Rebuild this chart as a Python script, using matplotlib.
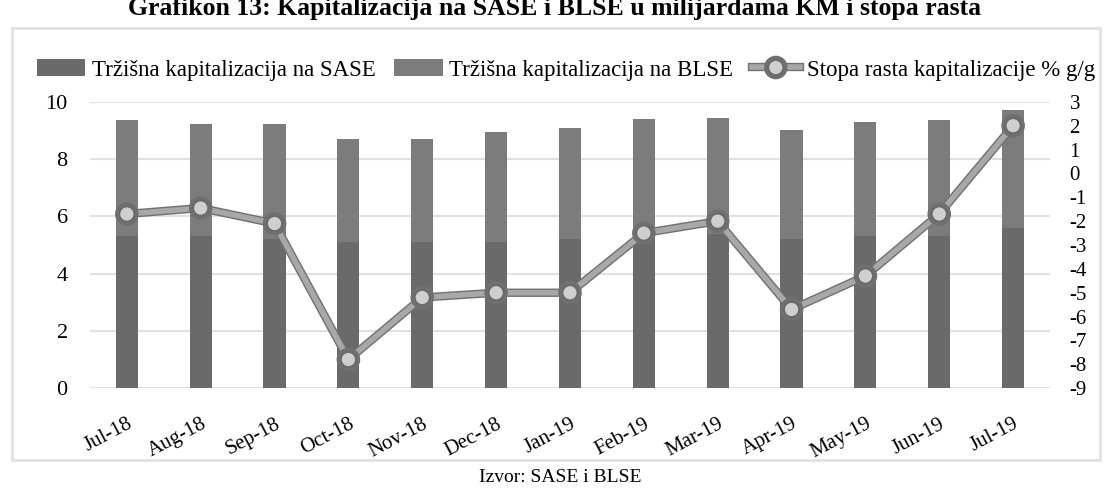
import matplotlib.pyplot as plt
import matplotlib.patheffects as pe
from matplotlib.patches import Rectangle

mjeseci = ["Jul-18", "Aug-18", "Sep-18", "Oct-18", "Nov-18", "Dec-18", "Jan-19",
           "Feb-19", "Mar-19", "Apr-19", "May-19", "Jun-19", "Jul-19"]
# ukupna kapitalizacija (mlrd KM) i dio SASE / BLSE
sase = [5.3, 5.3, 5.2, 5.1, 5.1, 5.1, 5.2, 5.3, 5.4, 5.2, 5.3, 5.3, 5.6]
blse = [4.07, 3.93, 4.03, 3.6, 3.6, 3.85, 3.9, 4.1, 4.04, 3.8, 4.0, 4.07, 4.1]
stopa = [-1.7, -1.45, -2.1, -7.8, -5.2, -5.0, -5.0, -2.5, -2.0, -5.7, -4.3, -1.7, 2.0]

plt.rcParams['font.family'] = ['Liberation Serif', 'DejaVu Serif']
plt.rcParams['axes.unicode_minus'] = False

fig = plt.figure(figsize=(11.1, 4.92), dpi=100)

# okvir grafikona
fig.patches.append(Rectangle((12 / 1110, 1 - 460 / 492), 1088 / 1110, 432 / 492,
                             transform=fig.transFigure, fill=False,
                             edgecolor='#e2e2e2', lw=2))

ax = fig.add_axes([0.081, 0.211, 0.865, 0.582])
x = range(len(mjeseci))
ax.bar(x, sase, width=0.3, color='#6a6a6a', zorder=2,
       label="Tržišna kapitalizacija na SASE")
ax.bar(x, blse, width=0.3, bottom=sase, color='#7c7c7c', zorder=2,
       label="Tržišna kapitalizacija na BLSE")
ax.set_ylim(0, 10)
ax.set_xlim(-0.5, len(mjeseci) - 0.5)
ax.set_yticks(range(0, 11, 2))
ax.grid(axis='y', color='#e0e0e0', lw=1.5, zorder=0)
for s in ax.spines.values():
    s.set_visible(False)
ax.tick_params(axis='y', length=0, labelsize=16, pad=16)
ax.set_xticks(list(x))
ax.set_xticklabels(mjeseci, rotation=28, ha='right', rotation_mode='anchor', fontsize=15)
ax.tick_params(axis='x', length=0, pad=19)

ax2 = ax.twinx()
ax2.plot(x, stopa, color='#a8a8a8', lw=4, marker='o', markersize=11,
         markerfacecolor='#cfcfcf', markeredgecolor='#6a6a6a', markeredgewidth=1.5,
         path_effects=[pe.Stroke(linewidth=6, foreground='#707070'), pe.Normal()],
         zorder=3, label="Stopa rasta kapitalizacije % g/g")
ax2.set_ylim(-9, 3)
ax2.set_yticks(range(-9, 4))
for s in ax2.spines.values():
    s.set_visible(False)
ax2.tick_params(length=0, labelsize=15, pad=14)

h1, l1 = ax.get_legend_handles_labels()
h2, l2 = ax2.get_legend_handles_labels()
fig.legend(h1 + h2, l1 + l2, loc='center', bbox_to_anchor=(0.51, 1 - 70 / 492),
           ncol=3, frameon=False, fontsize=16.5, handlelength=2.1,
           handletextpad=0.3, columnspacing=0.8)

fig.text(0.5, 1 - 15 / 492, "Grafikon 13: Kapitalizacija na SASE i BLSE u milijardama KM i stopa rasta",
         ha='center', va='baseline', fontsize=18.5, fontweight='bold')
fig.text(0.505, 1 - 482 / 492, "Izvor: SASE i BLSE", ha='center', va='baseline', fontsize=14)

fig.savefig("out.png", dpi=100)
